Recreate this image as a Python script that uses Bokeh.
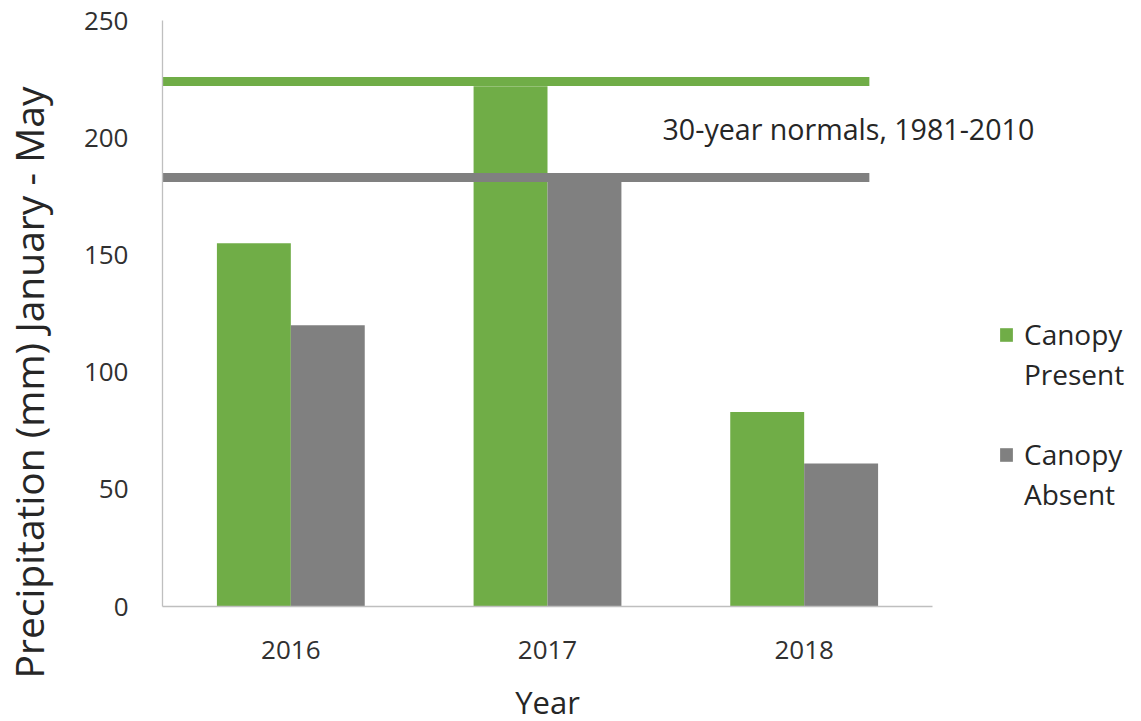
from bokeh.plotting import figure
from bokeh.models import (Range1d, Legend, LegendItem, Label, ColumnDataSource,
                          FixedTicker, LinearAxis)
from bokeh.transform import dodge
from bokeh.embed import file_html
from bokeh.resources import INLINE

# Precipitation totals (mm), January - May
years = ["2016", "2017", "2018"]
canopy_present = [155, 222, 83]
canopy_absent = [120, 183, 61]

# 30-year normals, 1981-2010
normal_present = 224
normal_absent = 183

y_ticks = [0, 50, 100, 150, 200, 250]
y_max = 250

GREEN = "#70AD47"
GREY = "#808080"
AXIS = "#BFBFBF"
FONT = "Open Sans"

# page geometry (px): the plotting area sits inside a full-page frame
W, H = 1141, 721
PLOT_LEFT, PLOT_TOP, PLOT_W, PLOT_H = 162, 20, 770, 586

n_years = len(years)
x_pos = [i + 0.5 for i in range(n_years)]        # one unit per year
px_x = PLOT_W / n_years
px_y = PLOT_H / y_max

src = ColumnDataSource(dict(x=x_pos, present=canopy_present, absent=canopy_absent))

p = figure(
    width=W, height=H, min_border=0,
    x_range=Range1d(-PLOT_LEFT / px_x, (W - PLOT_LEFT) / px_x),
    y_range=Range1d(-(H - PLOT_TOP - PLOT_H) / px_y, y_max + PLOT_TOP / px_y),
    x_axis_location=None, y_axis_location=None,
    output_backend="svg", toolbar_location=None,
    background_fill_color="white", border_fill_color="white",
)
p.outline_line_color = None
p.grid.visible = False

bar_w = 0.288
r_present = p.vbar(x=dodge("x", -bar_w / 2), top="present", width=bar_w,
                   bottom=0, source=src, fill_color=GREEN, line_color=None)
r_absent = p.vbar(x=dodge("x", bar_w / 2), top="absent", width=bar_w,
                  bottom=0, source=src, fill_color=GREY, line_color=None)

# normals drawn as thick horizontal bands over the bars
norm_src = ColumnDataSource(dict(
    x0=[0, 0], x1=[x_pos[-1] + 0.254] * 2,
    y=[normal_absent, normal_present], color=[GREY, GREEN],
))
p.segment(x0="x0", x1="x1", y0="y", y1="y", color="color",
          line_width=9, line_cap="butt", source=norm_src)

p.add_layout(Label(x=662, y=204, x_units="screen", y_units="data",
                   text="30-year normals, 1981-2010", text_font=FONT,
                   text_font_size="28.6px", text_color="#262626",
                   text_baseline="alphabetic"))


def style_axis(ax):
    ax.axis_line_color = AXIS
    ax.axis_line_width = 1.3
    ax.major_tick_line_color = None
    ax.minor_tick_line_color = None
    ax.major_tick_out = 0
    ax.major_tick_in = 0
    ax.major_label_text_font = FONT
    ax.major_label_text_color = "#303030"
    ax.major_label_text_font_size = "26px"


yaxis = LinearAxis(fixed_location=0, ticker=FixedTicker(ticks=y_ticks),
                   bounds=(0, y_max), major_label_standoff=34)
style_axis(yaxis)
p.add_layout(yaxis, "left")

xaxis = LinearAxis(fixed_location=0, ticker=FixedTicker(ticks=x_pos),
                   bounds=(0, n_years), major_label_standoff=34,
                   major_label_overrides={x: y for x, y in zip(x_pos, years)})
style_axis(xaxis)
p.add_layout(xaxis, "below")

# axis titles
p.add_layout(Label(x=n_years / 2, y=20, x_units="data", y_units="screen",
                   text="Year", text_font=FONT, text_font_size="31px",
                   text_color="#262626", text_align="center",
                   text_baseline="alphabetic"))
p.add_layout(Label(x=28, y=43, x_units="screen", y_units="screen",
                   angle=90, angle_units="deg",
                   text="Precipitation (mm) January - May", text_font=FONT,
                   text_font_size="39px", text_color="#262626",
                   text_align="left", text_baseline="alphabetic"))

# legend: the swatch sits beside the first line of each two-line entry
spacer = p.vbar(x=[], top=[], width=0.1, fill_alpha=0, line_alpha=0)
legend = Legend(
    items=[LegendItem(label="Canopy", renderers=[r_present]),
           LegendItem(label="Present", renderers=[spacer]),
           LegendItem(label="", renderers=[spacer]),
           LegendItem(label="Canopy", renderers=[r_absent]),
           LegendItem(label="Absent", renderers=[spacer])],
    location=(998, 207),
    orientation="vertical",
    glyph_width=16, glyph_height=17, label_height=40,
    label_standoff=10, spacing=0, padding=0, margin=0,
    label_text_font=FONT, label_text_font_size="28px",
    label_text_color="#262626",
    border_line_color=None, background_fill_alpha=0,
)
p.add_layout(legend, "center")

open("out.html", "w").write(file_html(p, INLINE))
